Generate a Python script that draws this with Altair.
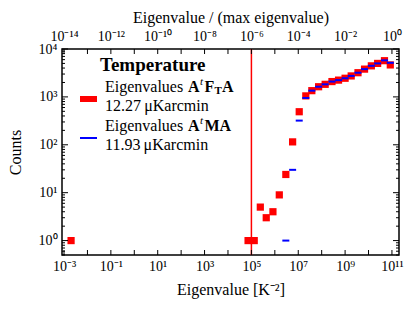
import altair as alt
import pandas as pd

# ---------------- data ----------------
red_eig = [2.0e-3, 7.2e4, 1.32e5, 2.4e5, 4.3e5, 8.3e5, 1.55e6, 2.95e6, 5.75e6,
           1.1e7, 2.1e7, 3.8e7, 7.4e7, 1.41e8, 2.75e8, 5.25e8, 1.0e9, 1.82e9,
           3.55e9, 6.76e9, 1.32e10, 2.45e10, 4.8e10, 8.5e10]
red_counts = [1, 1, 1, 5, 3, 4, 9, 24, 115, 490, 1050, 1350, 1630, 1830, 2090,
              2240, 2450, 2740, 3200, 3800, 4450, 5000, 5700, 4650]
blue_eig = [2.95e6, 5.75e6, 1.1e7, 2.1e7, 3.8e7, 7.4e7, 1.41e8, 2.75e8, 5.25e8,
            1.0e9, 1.82e9, 3.55e9, 6.76e9, 1.32e10, 2.45e10, 4.8e10, 8.5e10]
blue_counts = [1, 30, 320, 950, 1350, 1630, 1830, 2090, 2240, 2450, 2740, 3200,
               3800, 4450, 5000, 5800, 5150]
cut_value = [1e5]
max_eigenvalue = 1e11

x_decades = [-3, -2, -1, 0, 1, 2, 3, 4, 5, 6, 7, 8, 9, 10, 11]
x_label_exps = [-3, -1, 1, 3, 5, 7, 9, 11]
top_label_exps = [-14, -12, -10, -8, -6, -4, -2, 0]
y_decades = [0, 1, 2, 3, 4]
y_minor = [0.5, 0.6, 0.7, 0.8, 0.9] + [m * 10 ** k for k in range(0, 4) for m in range(2, 10)]

# ---------------- layout ----------------
W, H = 337, 206
FONT = "Liberation Serif"
x_dom = [8.2e-4, 2.0e11]
yscale = alt.Scale(type="log", domain=[0.5, 1e4], nice=False)


def xs():
    return alt.Scale(type="log", domain=x_dom, nice=False)


SUP = str.maketrans("-0123456789", "⁻⁰¹²³⁴⁵⁶⁷⁸⁹")


def label_expr(exps):
    expr = "''"
    for e in exps:
        expr = f"round(log(datum.value)/LN10) == {e} ? '10{str(e).translate(SUP)}' : " + expr
    return expr


axis_common = dict(ticks=False, domain=False, grid=False, labelFont=FONT,
                   labelFontSize=14, labelColor="black", titleFont=FONT,
                   titleFontSize=16, titleFontWeight="normal", titleColor="black",
                   labelOverlap=False, labelFlush=False)

yaxis = alt.Axis(values=[10.0 ** e for e in y_decades],
                 labelExpr=label_expr(y_decades),
                 title="Counts", labelPadding=5, titlePadding=15,
                 orient="left", **axis_common)


def Y():
    return alt.Y("count:Q", scale=yscale, axis=yaxis)


red_df = pd.DataFrame({"eig": red_eig, "count": red_counts})
blue_df = pd.DataFrame({"eig": blue_eig, "count": blue_counts})
one = pd.DataFrame({"a": [0]})

vline = alt.Chart(pd.DataFrame({"eig": cut_value})).mark_rule(
    color="#ff0000", strokeWidth=1.5).encode(
    x=alt.X("eig:Q", scale=xs(), axis=None))

red = alt.Chart(red_df).mark_square(size=52, color="#ff0000", opacity=1).encode(
    x=alt.X("eig:Q", scale=xs(),
            axis=alt.Axis(values=[10.0 ** e for e in x_label_exps],
                          labelExpr=label_expr(x_label_exps),
                          title="Eigenvalue [K⁻²]", labelPadding=4,
                          titlePadding=8, orient="bottom", **axis_common)),
    y=Y())

blue = alt.Chart(blue_df).mark_tick(orient="horizontal", size=7, thickness=2,
                                    color="#0000ff", opacity=1).encode(
    x=alt.X("eig:Q", scale=xs(), axis=None),
    y=Y())

xt = pd.DataFrame({"eig": [10.0 ** e for e in x_decades]})
yt = pd.DataFrame({"count": [10.0 ** e for e in y_decades]})
ym = pd.DataFrame({"count": y_minor})

tick_layers = []
for y0, y1 in [(H, H - 5), (0, 5)]:
    tick_layers.append(alt.Chart(xt).mark_rule(color="black", strokeWidth=1).encode(
        x=alt.X("eig:Q", scale=xs(), axis=None), y=alt.value(y0), y2=alt.value(y1)))
for df, ln in [(yt, 6), (ym, 3)]:
    for x0, x1 in [(0, ln), (W, W - ln)]:
        tick_layers.append(alt.Chart(df).mark_rule(color="black", strokeWidth=1).encode(
            y=Y(), x=alt.value(x0), x2=alt.value(x1)))


def txt(s, x, y, size=16, weight="normal", style="normal"):
    return alt.Chart(one).mark_text(text=s, align="left", baseline="middle", font=FONT,
                                    fontSize=size, fontWeight=weight, fontStyle=style,
                                    color="black").encode(x=alt.value(x), y=alt.value(y))


legend = [
    txt("Temperature", 38, 16, size=19, weight="bold"),
    txt("Eigenvalues", 43, 38),
    txt("A", 126, 38, weight="bold"),
    txt("t", 138, 33, size=11, style="italic"),
    txt("F", 142.5, 38, weight="bold"),
    txt("T", 152.5, 42, size=11, weight="bold"),
    txt("A", 160, 38, weight="bold"),
    txt("12.27\u2009μKarcmin", 43, 57),
    txt("Eigenvalues", 43, 77),
    txt("A", 126, 77, weight="bold"),
    txt("t", 138, 72, size=11, style="italic"),
    txt("MA", 142.5, 77, weight="bold"),
    txt("11.93\u2009μKarcmin", 43, 96),
    alt.Chart(one).mark_rect(color="#ff0000").encode(
        x=alt.value(18), x2=alt.value(35), y=alt.value(47), y2=alt.value(53)),
    alt.Chart(one).mark_rect(color="#0000ff").encode(
        x=alt.value(18), x2=alt.value(35), y=alt.value(88), y2=alt.value(90)),
]

top_dom = [x_dom[0] / max_eigenvalue, x_dom[1] / max_eigenvalue]
top = alt.Chart(pd.DataFrame({"r": [1e-6]})).mark_point(opacity=0).encode(
    x=alt.X("r:Q", scale=alt.Scale(type="log", domain=top_dom, nice=False),
            axis=alt.Axis(orient="top", values=[10.0 ** e for e in top_label_exps],
                          labelExpr=label_expr(top_label_exps),
                          title="Eigenvalue / (max eigenvalue)", labelPadding=6,
                          titlePadding=4, **axis_common)),
    y=alt.value(0))

chart = alt.layer(red, vline, blue, *tick_layers, *legend, top).resolve_scale(
    x="independent").properties(
    width=W, height=H, autosize=alt.AutoSizeParams(type="none"),
    padding={"left": 54, "top": 41, "right": 8, "bottom": 48},
    background="white",
).configure_view(stroke="black", strokeWidth=1.5)

chart.save("out.html", embed_options={"renderer": "svg", "actions": False})
